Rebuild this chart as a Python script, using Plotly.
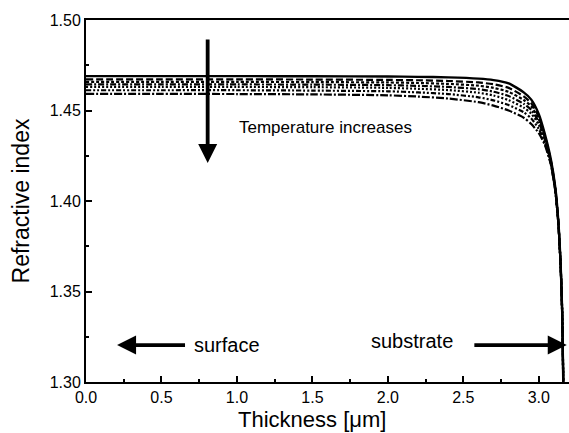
import plotly.graph_objects as go

thickness = [0.0, 0.5, 1.0, 1.5, 2.0, 2.2, 2.4, 2.6, 2.7, 2.8, 2.9, 2.95, 3.0, 3.04, 3.08, 3.11, 3.13, 3.145, 3.155, 3.162]

n_T1 = [1.4690, 1.4690, 1.4690, 1.4689, 1.4688, 1.4686, 1.4683, 1.4676, 1.4668, 1.4650, 1.4600, 1.4560, 1.4480, 1.4370, 1.4230, 1.4070, 1.3880, 1.3640, 1.3380, 1.3000]
n_T2 = [1.4672, 1.4672, 1.4672, 1.4671, 1.4669, 1.4667, 1.4663, 1.4655, 1.4645, 1.4625, 1.4578, 1.4540, 1.4465, 1.4360, 1.4222, 1.4064, 1.3876, 1.3637, 1.3378, 1.3000]
n_T3 = [1.4658, 1.4658, 1.4658, 1.4657, 1.4655, 1.4652, 1.4647, 1.4637, 1.4625, 1.4603, 1.4558, 1.4522, 1.4452, 1.4350, 1.4217, 1.4060, 1.3874, 1.3636, 1.3377, 1.3000]
n_T4 = [1.4644, 1.4644, 1.4644, 1.4643, 1.4640, 1.4636, 1.4630, 1.4618, 1.4604, 1.4580, 1.4537, 1.4503, 1.4437, 1.4340, 1.4212, 1.4058, 1.3872, 1.3635, 1.3376, 1.3000]
n_T5 = [1.4630, 1.4630, 1.4630, 1.4629, 1.4625, 1.4620, 1.4613, 1.4598, 1.4583, 1.4557, 1.4516, 1.4483, 1.4421, 1.4330, 1.4208, 1.4055, 1.3871, 1.3634, 1.3375, 1.3000]
n_T6 = [1.4612, 1.4612, 1.4612, 1.4610, 1.4606, 1.4600, 1.4591, 1.4573, 1.4556, 1.4530, 1.4490, 1.4456, 1.4398, 1.4320, 1.4204, 1.4052, 1.3870, 1.3632, 1.3373, 1.3000]
n_T7 = [1.4592, 1.4592, 1.4591, 1.4589, 1.4584, 1.4577, 1.4566, 1.4546, 1.4527, 1.4500, 1.4460, 1.4425, 1.4375, 1.4310, 1.4200, 1.4050, 1.3870, 1.3630, 1.3370, 1.3000]

series = [n_T1, n_T2, n_T3, n_T4, n_T5, n_T6, n_T7]
dashes = ["solid", "7px,3px", "3px,2px", "6px,2px,2px,2px", "2px,2px", "5px,2px,2px,2px,2px,2px", "8px,2px,2px,2px"]
widths = [2.4, 2.2, 2.2, 2.2, 2.2, 2.2, 2.2]

x_ticks = [0.0, 0.5, 1.0, 1.5, 2.0, 2.5, 3.0]
y_ticks = [1.30, 1.35, 1.40, 1.45, 1.50]

fig = go.Figure()
for ys, d, w in zip(series, dashes, widths):
    fig.add_trace(go.Scatter(x=thickness, y=ys, mode="lines",
                             line=dict(color="black", width=w, dash=d, shape="spline", smoothing=0.6),
                             showlegend=False, hoverinfo="skip"))

font = "Liberation Sans, Arial, sans-serif"

anns = []
anns.append(dict(x=0.806, y=1.421, ax=0.806, ay=1.490, xref="x", yref="y", axref="x", ayref="y",
                 showarrow=True, arrowhead=2, arrowsize=1.0, arrowwidth=3.8, arrowcolor="black", text=""))
anns.append(dict(x=0.206, y=1.3204, ax=0.666, ay=1.3204, xref="x", yref="y", axref="x", ayref="y",
                 showarrow=True, arrowhead=2, arrowsize=1.0, arrowwidth=3.8, arrowcolor="black", text=""))
anns.append(dict(x=3.185, y=1.3204, ax=2.563, ay=1.3204, xref="x", yref="y", axref="x", ayref="y",
                 showarrow=True, arrowhead=2, arrowsize=1.0, arrowwidth=3.8, arrowcolor="black", text=""))
anns.append(dict(x=0.998, y=1.4405, xref="x", yref="y", text="Temperature increases", showarrow=False,
                 xanchor="left", yanchor="middle", font=dict(family=font, size=17, color="black")))
anns.append(dict(x=0.70, y=1.3204, xref="x", yref="y", text="surface", showarrow=False,
                 xanchor="left", yanchor="middle", font=dict(family=font, size=20, color="black")))
anns.append(dict(x=1.875, y=1.3225, xref="x", yref="y", text="substrate", showarrow=False,
                 xanchor="left", yanchor="middle", font=dict(family=font, size=20, color="black")))
anns.append(dict(x=0.468, y=-0.142, xref="paper", yref="paper", text="Thickness [μm]", showarrow=False,
                 xanchor="center", yanchor="bottom", borderpad=0,
                 font=dict(family=font, size=22, color="black")))

fig.update_layout(
    width=569, height=433,
    margin=dict(l=86, r=0, t=20, b=51, autoexpand=False),
    paper_bgcolor="white", plot_bgcolor="white",
    font=dict(family=font, size=16, color="black"),
    annotations=anns,
    xaxis=dict(range=[0, 3.2], tickvals=x_ticks, ticktext=[f"{v:.1f}" for v in x_ticks],
               ticks="inside", ticklen=6, tickwidth=1.5, tickcolor="black",
               minor=dict(ticks="inside", ticklen=3, tickwidth=1.5, dtick=0.25, tick0=0, tickcolor="black"),
               showline=True, linecolor="black", linewidth=2, mirror=True, showgrid=False, zeroline=False,
               tickfont=dict(size=16), automargin=False),
    yaxis=dict(range=[1.30, 1.50], tickvals=y_ticks, ticktext=[f"{v:.2f}" for v in y_ticks],
               ticks="inside", ticklen=6, tickwidth=1.5, tickcolor="black",
               minor=dict(ticks="inside", ticklen=3, tickwidth=1.5, dtick=0.025, tick0=1.3, tickcolor="black"),
               showline=True, linecolor="black", linewidth=2, mirror=False, showgrid=False, zeroline=False,
               title=dict(text="Refractive index", font=dict(size=23), standoff=14),
               tickfont=dict(size=16), automargin=False),
)

fig.write_html("out.html", config={"displayModeBar": False},
               post_script="document.body.style.margin='0';document.body.style.overflow='hidden';")
